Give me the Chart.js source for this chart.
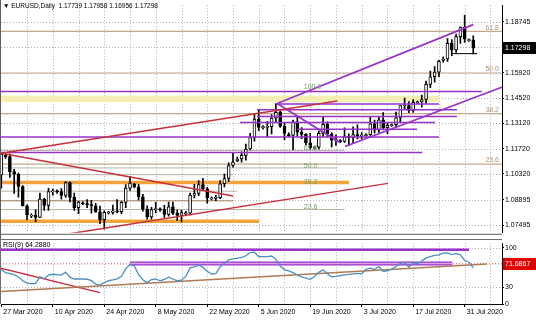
<!DOCTYPE html>
<html>
<head>
<meta charset="utf-8">
<script src="https://cdn.jsdelivr.net/npm/chart.js@4.4.0/dist/chart.umd.min.js"></script>
<style>
  html, body { margin: 0; padding: 0; background: #fff; }
  #wrap { position: relative; width: 536px; height: 321px; overflow: hidden; }
  .pane { position: absolute; left: 0; width: 536px; }
</style>
</head>
<body>
<div id="wrap">
  <div class="pane" style="top:0;height:238px"><canvas id="main"></canvas></div>
  <div class="pane" style="top:238px;height:83px"><canvas id="rsi"></canvas></div>
</div>
<script>
// EURUSD daily, 27 Mar 2020 .. 3 Aug 2020 (broker shows short Sunday bars)
const headerText = '\u25BC EURUSD,Daily  1.17739 1.17958 1.16956 1.17298';
const rsiTitle = 'RSI(9) 64.2880';

const opens = [
  1.1027, 1.1135, 1.1128, 1.1045, 1.1031, 1.0963, 1.0856, 1.0800, 1.0803, 1.0792,
  1.0893, 1.0858, 1.0935, 1.0937, 1.0935, 1.0913, 1.0985, 1.0903, 1.0845, 1.0872,
  1.0868, 1.0863, 1.0856, 1.0822, 1.0779, 1.0818, 1.0820, 1.0827, 1.0823, 1.0875,
  1.0954, 1.0975, 1.0960, 1.0905, 1.0838, 1.0795, 1.0835, 1.0838, 1.0835, 1.0808,
  1.0850, 1.0815, 1.0803, 1.0812, 1.0815, 1.0915, 1.0924, 1.0973, 1.0950, 1.0895,
  1.0900, 1.0901, 1.0978, 1.1007, 1.1079, 1.1105, 1.1115, 1.1135, 1.1170, 1.1234,
  1.1335, 1.1290, 1.1292, 1.1294, 1.1341, 1.1373, 1.1297, 1.1250, 1.1245, 1.1320,
  1.1263, 1.1251, 1.1204, 1.1175, 1.1180, 1.1257, 1.1307, 1.1252, 1.1219, 1.1215,
  1.1212, 1.1242, 1.1233, 1.1250, 1.1240, 1.1245, 1.1250, 1.1310, 1.1274, 1.1331,
  1.1288, 1.1300, 1.1305, 1.1342, 1.1410, 1.1410, 1.1383, 1.1425, 1.1430, 1.1444,
  1.1528, 1.1570, 1.1595, 1.1660, 1.1668, 1.1754, 1.1718, 1.1792, 1.1845, 1.1770,
  1.17739
];
const highs = [
  1.1147, 1.1143, 1.1144, 1.1058, 1.1037, 1.0968, 1.0862, 1.0812, 1.0834, 1.0926,
  1.0898, 1.0952, 1.0948, 1.0945, 1.0951, 1.0990, 1.0988, 1.0926, 1.0881, 1.0880,
  1.0890, 1.0886, 1.0870, 1.0855, 1.0828, 1.0826, 1.0860, 1.0890, 1.0880, 1.0973,
  1.1019, 1.0980, 1.0975, 1.0920, 1.0856, 1.0847, 1.0875, 1.0845, 1.0859, 1.0876,
  1.0876, 1.0834, 1.0831, 1.0825, 1.0927, 1.0975, 1.0995, 1.1008, 1.0958, 1.0905,
  1.0914, 1.0996, 1.1032, 1.1093, 1.1147, 1.1125, 1.1154, 1.1197, 1.1257, 1.1362,
  1.1384, 1.1300, 1.1323, 1.1360, 1.1422, 1.1389, 1.1317, 1.1260, 1.1330, 1.1352,
  1.1288, 1.1256, 1.1257, 1.1185, 1.1269, 1.1349, 1.1320, 1.1261, 1.1249, 1.1222,
  1.1287, 1.1254, 1.1293, 1.1304, 1.1261, 1.1255, 1.1345, 1.1330, 1.1345, 1.1371,
  1.1318, 1.1310, 1.1375, 1.1410, 1.1452, 1.1432, 1.1443, 1.1435, 1.1468, 1.1546,
  1.1601, 1.1626, 1.1660, 1.1680, 1.1781, 1.1776, 1.1806, 1.1846, 1.1909, 1.1780,
  1.17958
];
const lows = [
  1.0953, 1.1118, 1.1013, 1.0925, 1.0904, 1.0856, 1.0779, 1.0790, 1.0768, 1.0790,
  1.0830, 1.0830, 1.0915, 1.0925, 1.0893, 1.0903, 1.0877, 1.0831, 1.0813, 1.0862,
  1.0845, 1.0815, 1.0820, 1.0757, 1.0727, 1.0810, 1.0810, 1.0816, 1.0812, 1.0845,
  1.0941, 1.0955, 1.0888, 1.0827, 1.0782, 1.0782, 1.0816, 1.0825, 1.0792, 1.0799,
  1.0807, 1.0774, 1.0767, 1.0805, 1.0806, 1.0900, 1.0912, 1.0944, 1.0870, 1.0888,
  1.0884, 1.0896, 1.0961, 1.0991, 1.1069, 1.1100, 1.1097, 1.1109, 1.1165, 1.1213,
  1.1271, 1.1280, 1.1239, 1.1253, 1.1322, 1.1289, 1.1222, 1.1240, 1.1167, 1.1240,
  1.1227, 1.1193, 1.1168, 1.1170, 1.1169, 1.1239, 1.1237, 1.1181, 1.1190, 1.1205,
  1.1206, 1.1189, 1.1205, 1.1226, 1.1226, 1.1240, 1.1245, 1.1258, 1.1262, 1.1276,
  1.1255, 1.1295, 1.1290, 1.1322, 1.1390, 1.1371, 1.1372, 1.1420, 1.1402, 1.1422,
  1.1510, 1.1540, 1.1570, 1.1650, 1.1655, 1.1686, 1.1705, 1.1754, 1.1760, 1.1765,
  1.16956
];
const closes = [
  1.1142, 1.1128, 1.1045, 1.1031, 1.0963, 1.0856, 1.0807, 1.0803, 1.0792, 1.0893,
  1.0858, 1.0935, 1.0937, 1.0935, 1.0913, 1.0985, 1.0903, 1.0845, 1.0876, 1.0868,
  1.0863, 1.0856, 1.0822, 1.0779, 1.0820, 1.0820, 1.0827, 1.0823, 1.0875, 1.0954,
  1.0982, 1.0960, 1.0905, 1.0838, 1.0795, 1.0835, 1.0840, 1.0835, 1.0808, 1.0850,
  1.0815, 1.0803, 1.0819, 1.0815, 1.0915, 1.0924, 1.0973, 1.0950, 1.0899, 1.0900,
  1.0901, 1.0978, 1.1007, 1.1079, 1.1098, 1.1115, 1.1135, 1.1170, 1.1234, 1.1335,
  1.1290, 1.1292, 1.1294, 1.1341, 1.1373, 1.1297, 1.1257, 1.1245, 1.1320, 1.1263,
  1.1251, 1.1204, 1.1178, 1.1180, 1.1257, 1.1307, 1.1252, 1.1219, 1.1222, 1.1212,
  1.1242, 1.1233, 1.1250, 1.1240, 1.1248, 1.1250, 1.1310, 1.1274, 1.1331, 1.1288,
  1.1301, 1.1305, 1.1342, 1.1410, 1.1412, 1.1383, 1.1428, 1.1430, 1.1444, 1.1528,
  1.1570, 1.1595, 1.1655, 1.1668, 1.1754, 1.1718, 1.1792, 1.1845, 1.1777, 1.1774,
  1.17298
];
const rsiValues = [
  61.9, 55.9, 54.2, 52.5, 48.3, 41.5, 37.3, 36.4, 36.4, 48.3,
  44.9, 51.7, 53.1, 52.5, 51.7, 56.8, 47.8, 44.6, 44.6, 44.6,
  44.2, 41.7, 35.6, 33.6, 38.1, 41.5, 42.9, 44.9, 49.5, 62.7,
  70.7, 67.8, 52.5, 43.2, 38.1, 43.6, 44.6, 41.5, 44.1, 47.8,
  44.6, 41.5, 42.4, 49.2, 64.4, 66.1, 69.5, 65.3, 58.5, 53.4,
  54.2, 66.1, 72.9, 78.8, 80.5, 81.7, 83.4, 86.1, 91.5, 92.4,
  84.7, 84.7, 84.7, 85.6, 79.7, 67.8, 61.0, 59.0, 55.9, 51.7,
  48.3, 46.3, 44.1, 49.2, 56.8, 61.0, 54.2, 48.3, 49.2, 50.5,
  51.9, 52.9, 53.7, 54.6, 53.7, 61.9, 64.1, 61.4, 66.9, 58.5,
  59.3, 62.2, 66.9, 72.4, 74.1, 66.1, 73.7, 71.9, 76.8, 82.2,
  84.7, 86.8, 87.6, 90.7, 91.0, 88.1, 89.8, 87.8, 77.5, 74.6,
  64.3
];

// time axis: a label every second Friday, a grid line every Friday (6 bars a week)
const xLabels = ['27 Mar 2020', '10 Apr 2020', '24 Apr 2020', '8 May 2020', '22 May 2020',
  '5 Jun 2020', '19 Jun 2020', '3 Jul 2020', '17 Jul 2020', '31 Jul 2020'];
const xLabelBars = [0, 12, 24, 36, 48, 60, 72, 84, 96, 108];
const weekBars = [0, 6, 12, 18, 24, 30, 36, 42, 48, 54, 60, 66, 72, 78, 84, 90, 96, 102, 108, 114];

const priceTicks = [1.07495, 1.08895, 1.10320, 1.11720, 1.13120, 1.14520, 1.15920, 1.17320, 1.18745];
const lastPrice = 1.17298;
const rsiTicks = [0, 30, 100];
const rsiLevel = 30;
const rsiMarker = 71.6867;

// drawn objects, in bar index / price units
const fiboRight = [1.18209, 1.15906, 1.13656, 1.10870];
const fiboRightText = ['61.8', '50.0', '38.2', '23.6'];
const fiboLeftText = ['100.0', '61.8', '50.0', '38.2', '23.6'];
const fiboLeftAt = [1.15102, 1.11727, 1.10763, 1.09852, 1.08513];
const fiboLeftBar = 70.5;
const thinLevels = [1.1162, 1.10655, 1.10281, 1.0937, 1.08835, 1.08353];
const thinLevelEnd = [80, 78.3, 54, 55, 54, 80];
const orangeLevels = [1.09852, 1.0771];
const orangeLevelEnd = [81.05, 60.07];
const purpleLevels = [1.14888, 1.14192, 1.13870, 1.13495, 1.13174, 1.12799, 1.12370, 1.11513];
const purpleLevelStart = [-1, 64.3, 59.6, 59.6, 55.6, 69, -1, -1];
const purpleLevelEnd = [112, 102, 106.2, 106.2, 101.1, 96.9, 102, 98.1];
const zoneTop = 1.1465, zoneBottom = 1.1430, zoneEnd = 102;
const redTrends = [[0, 1.1147, 78.3, 1.1436], [0, 1.1147, 54, 1.0910], [11.5, 1.0685, 90.1, 1.0980]];
const purpleTrends = [[64.3, 1.1422, 110, 1.1858], [64.3, 1.1422, 79, 1.1205], [80.1, 1.1184, 117, 1.1515]];
const lowMark = [105.1, 110.9, 1.16977];
const rsiPurpleLevel = [96.6, -1, 109];
const rsiBand = [72.4, 30, 105.1];
const rsiBrownTrend = [-0.3, 22.0, 113.2, 71.2];
const rsiRedTrend = [-0.3, 64.4, 23, 20.3];

const X_MIN = -0.07, X_MAX = 116.7;
const FONT = '"Liberation Sans", Arial, sans-serif';
const PURPLE = '#9932cc', RED = '#c8303c', TAN = '#c4a88c';

function seg(x0, y0, x1, y1, color, width, order, dash) {
    return {
        type: 'line',
        data: [{ x: x0, y: y0 }, { x: x1, y: y1 }],
        borderColor: color,
        borderWidth: width,
        borderDash: dash || [],
        pointRadius: 0,
        fill: false,
        order: order
    };
}

function level(price, from, to, color, width, order, dash) {
    return seg(from, price, to, price, color, width, order, dash);
}

// dotted MT4 grid, drawn under everything else
function gridPlugin(levels) {
    return {
        id: 'mtGrid',
        beforeDatasetsDraw(chart) {
            const { ctx, chartArea: a, scales: { x, y } } = chart;
            ctx.save();
            ctx.strokeStyle = '#b0b0b0';
            ctx.lineWidth = 1;
            ctx.setLineDash([1, 2]);
            ctx.beginPath();
            weekBars.forEach(b => {
                const px = Math.round(x.getPixelForValue(b)) + 0.5;
                if (px > a.left + 2 && px < a.right) { ctx.moveTo(px, a.top); ctx.lineTo(px, a.bottom); }
            });
            levels.forEach(v => {
                const py = Math.round(y.getPixelForValue(v)) + 0.5;
                ctx.moveTo(a.left, py); ctx.lineTo(a.right, py);
            });
            ctx.stroke();
            ctx.restore();
        }
    };
}

function priceBox(ctx, text, py, bg) {
    ctx.fillStyle = bg;
    ctx.fillRect(503, Math.round(py) - 6, 33, 12);
    ctx.fillStyle = '#fff';
    ctx.textAlign = 'left';
    ctx.textBaseline = 'middle';
    ctx.fillText(text, 505, Math.round(py) + 0.5);
}

// ---------- main price window ----------
const bars = opens.map((o, i) => i);
const wicks = bars.map(i => ({ x: i, y: [lows[i], highs[i]] }));
const bodies = bars.map(i => {
    let lo = Math.min(opens[i], closes[i]), hi = Math.max(opens[i], closes[i]);
    if (hi - lo < 0.0006) { const m = (lo + hi) / 2; lo = m - 0.0003; hi = m + 0.0003; }
    return { x: i, y: [lo, hi] };
});
const bodyColors = bars.map(i => closes[i] >= opens[i] ? '#ffffff' : '#000000');

const mainSets = [];
mainSets.push({
    type: 'line', data: [{ x: -1, y: zoneTop }, { x: zoneEnd, y: zoneTop }],
    borderWidth: 0, pointRadius: 0, fill: '+1', backgroundColor: '#f4eeb2', order: 20
});
mainSets.push({
    type: 'line', data: [{ x: -1, y: zoneBottom }, { x: zoneEnd, y: zoneBottom }],
    borderWidth: 0, pointRadius: 0, fill: false, order: 20
});
fiboRight.forEach(p => mainSets.push(level(p, -1, 120, TAN, 1.2, 12)));
thinLevels.forEach((p, i) => mainSets.push(level(p, -1, thinLevelEnd[i], i === 4 ? '#a8805c' : '#b8b4a4', 1, 12)));
orangeLevels.forEach((p, i) => mainSets.push(level(p, -1, orangeLevelEnd[i], '#f2a33a', 3.5, 11)));
mainSets.push({ type: 'bar', data: wicks, backgroundColor: '#000', barThickness: 1, grouped: false, order: 6 });
mainSets.push({
    type: 'bar', data: bodies, backgroundColor: bodyColors, borderColor: '#000', borderWidth: 1,
    borderSkipped: false, barThickness: 3, grouped: false, order: 5
});
purpleLevels.forEach((p, i) => mainSets.push(level(p, purpleLevelStart[i], purpleLevelEnd[i], PURPLE, 1.5, 2)));
redTrends.forEach(t => mainSets.push(seg(t[0], t[1], t[2], t[3], RED, 1.5, 1)));
purpleTrends.forEach(t => mainSets.push(seg(t[0], t[1], t[2], t[3], PURPLE, 1.8, 1)));
mainSets.push(level(lowMark[2], lowMark[0], lowMark[1], '#000', 1, 1));

const mainText = {
    id: 'mainText',
    afterDatasetsDraw(chart) {
        const { ctx, chartArea: a, scales: { x, y } } = chart;
        ctx.save();
        ctx.font = '6.5px ' + FONT;
        ctx.fillStyle = '#000';
        ctx.textBaseline = 'middle';
        ctx.fillText(headerText, 3, 6.5);

        ctx.font = '7px ' + FONT;
        ctx.fillStyle = '#b39474';
        ctx.textAlign = 'right';
        ctx.textBaseline = 'bottom';
        fiboRight.forEach((p, i) => ctx.fillText(fiboRightText[i], 499, y.getPixelForValue(p)));

        ctx.fillStyle = '#74a064';
        ctx.textAlign = 'left';
        ctx.textBaseline = 'middle';
        fiboLeftText.forEach((t, i) => ctx.fillText(t, x.getPixelForValue(fiboLeftBar), y.getPixelForValue(fiboLeftAt[i])));

        ctx.strokeStyle = '#606060';
        ctx.lineWidth = 1;
        ctx.beginPath();
        ctx.moveTo(0.5, 0); ctx.lineTo(0.5, 238);
        ctx.moveTo(0, a.bottom + 1.5); ctx.lineTo(a.right, a.bottom + 1.5);
        ctx.stroke();

        priceBox(ctx, lastPrice.toFixed(5), y.getPixelForValue(lastPrice), '#000');
        ctx.restore();
    }
};

new Chart(document.getElementById('main'), {
    type: 'bar',
    data: { datasets: mainSets },
    options: {
        responsive: true,
        maintainAspectRatio: false,
        animation: false,
        events: [],
        layout: { padding: { top: 1, bottom: 2, left: 1, right: 0 } },
        plugins: { legend: { display: false }, tooltip: { enabled: false } },
        scales: {
            x: { type: 'linear', min: X_MIN, max: X_MAX, offset: false, display: false },
            y: {
                position: 'right',
                min: 1.070667,
                max: 1.196557,
                afterBuildTicks: s => { s.ticks = priceTicks.map(v => ({ value: v })); },
                afterFit: s => { s.width = 34; },
                ticks: {
                    autoSkip: false,
                    padding: 1,
                    color: '#000',
                    font: { family: FONT, size: 7 },
                    callback: v => v.toFixed(5)
                },
                grid: { drawOnChartArea: false, drawTicks: true, tickLength: 2, color: '#000' },
                border: { display: true, color: '#000' }
            }
        }
    },
    plugins: [gridPlugin(priceTicks), mainText]
});

// ---------- RSI window ----------
const rsiSets = [
    level(rsiMarker, -1, 120, '#e04848', 1, 6, [1, 2]),
    level(rsiPurpleLevel[0], rsiPurpleLevel[1], rsiPurpleLevel[2], PURPLE, 2.5, 4),
    level(rsiBand[0], rsiBand[1], rsiBand[2], PURPLE, 4, 4),
    level(rsiBand[0], rsiBand[1], rsiBand[2], '#dca6e6', 1.5, 3),
    seg(rsiBrownTrend[0], rsiBrownTrend[1], rsiBrownTrend[2], rsiBrownTrend[3], '#b27a52', 1.5, 2),
    seg(rsiRedTrend[0], rsiRedTrend[1], rsiRedTrend[2], rsiRedTrend[3], RED, 1.5, 2),
    {
        type: 'line',
        data: rsiValues.map((v, i) => ({ x: i, y: v })),
        borderColor: '#4a8fc4',
        borderWidth: 1.3,
        pointRadius: 0,
        fill: false,
        order: 1
    }
];

const rsiText = {
    id: 'rsiText',
    afterDatasetsDraw(chart) {
        const { ctx, chartArea: a, scales: { y } } = chart;
        ctx.save();
        ctx.strokeStyle = '#707070';
        ctx.lineWidth = 1;
        ctx.beginPath();
        ctx.moveTo(0, 1.5); ctx.lineTo(a.right, 1.5);
        ctx.moveTo(0.5, 0); ctx.lineTo(0.5, a.bottom);
        ctx.stroke();

        ctx.font = '7px ' + FONT;
        ctx.fillStyle = '#000';
        ctx.textBaseline = 'middle';
        ctx.fillText(rsiTitle, 3, 7);
        priceBox(ctx, rsiMarker.toFixed(4), y.getPixelForValue(rsiMarker), '#e00000');
        ctx.restore();
    }
};

new Chart(document.getElementById('rsi'), {
    type: 'line',
    data: { datasets: rsiSets },
    options: {
        responsive: true,
        maintainAspectRatio: false,
        animation: false,
        events: [],
        layout: { padding: { top: 2, bottom: 0, left: 1, right: 0 } },
        plugins: { legend: { display: false }, tooltip: { enabled: false } },
        scales: {
            x: {
                type: 'linear',
                min: X_MIN,
                max: X_MAX,
                offset: false,
                afterBuildTicks: s => { s.ticks = xLabelBars.map(v => ({ value: v })); },
                afterFit: s => { s.height = 17; },
                ticks: {
                    autoSkip: false,
                    maxRotation: 0,
                    align: 'start',
                    labelOffset: 2,
                    padding: 1,
                    color: '#000',
                    font: { family: FONT, size: 7 },
                    callback: (v, i) => xLabels[i]
                },
                grid: { drawOnChartArea: false, drawTicks: true, tickLength: 3, color: '#000' },
                border: { display: true, color: '#000' }
            },
            y: {
                position: 'right',
                min: 0,
                max: 108.5,
                afterBuildTicks: s => { s.ticks = rsiTicks.map(v => ({ value: v })); },
                afterFit: s => { s.width = 34; },
                ticks: {
                    autoSkip: false,
                    padding: 1,
                    color: '#000',
                    font: { family: FONT, size: 7 },
                    callback: v => String(v)
                },
                grid: { drawOnChartArea: false, drawTicks: true, tickLength: 2, color: '#000' },
                border: { display: true, color: '#000' }
            }
        }
    },
    plugins: [gridPlugin([rsiLevel, 100]), rsiText]
});
</script>
</body>
</html>
